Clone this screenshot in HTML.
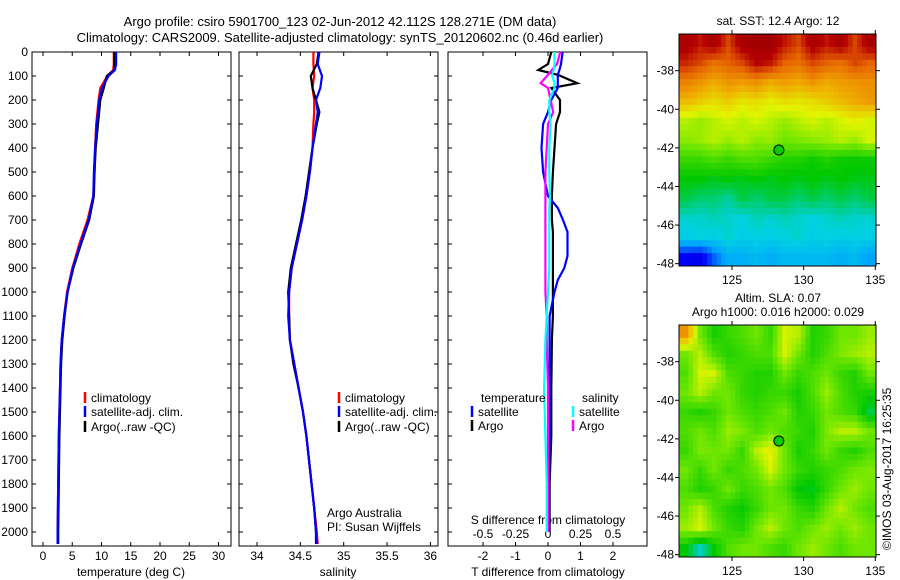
<!DOCTYPE html>
<html><head><meta charset="utf-8"><style>
html,body{margin:0;padding:0;background:#fff}
svg{display:block;font-family:"Liberation Sans",sans-serif}
text{font-size:12px;fill:#000}
</style></head><body>
<svg id="chart" width="900" height="580" viewBox="0 0 900 580">
<text x="340" y="26" text-anchor="middle" style="font-size:13px">Argo profile: csiro 5901700_123 02-Jun-2012 42.112S 128.271E (DM data)</text>
<text x="340" y="42" text-anchor="middle" style="font-size:13px">Climatology: CARS2009. Satellite-adjusted climatology: synTS_20120602.nc (0.46d earlier)</text>
<text x="778" y="25" text-anchor="middle">sat. SST: 12.4 Argo: 12</text>
<text x="778" y="302" text-anchor="middle">Altim. SLA: 0.07</text>
<text x="778" y="316" text-anchor="middle">Argo h1000: 0.016 h2000: 0.029</text>
<text transform="translate(891,550) rotate(-90)">©IMOS 03-Aug-2017 16:25:35</text>
<g id="g"></g>
</svg>
<script>
// ---- data ----
const depthT = [0,50,75,100,150,200,300,400,500,600,700,800,900,1000,1100,1200,1300,1400,1600,1800,2000,2050];
const tempClim = [12.1,12.1,12.0,11.0,9.8,9.5,9.1,8.9,8.8,8.6,7.6,6.2,5.0,4.1,3.6,3.2,3.0,2.9,2.7,2.6,2.5,2.5];
const tempSat = [12.5,12.5,12.3,11.2,10.1,9.6,9.2,8.9,8.7,8.6,7.8,6.4,5.1,4.2,3.6,3.2,3.0,2.9,2.7,2.6,2.5,2.5];
const tempArgo = [12.2,12.2,12.2,10.9,10.4,9.8,9.4,9.0,8.8,8.7,7.9,6.5,5.2,4.2,3.7,3.3,3.1,3.0,2.8,2.7,2.6,2.6];
const depthS = [0,50,100,150,200,250,300,400,500,600,700,800,900,1000,1100,1200,1300,1400,1500,1600,1700,1800,1900,2000,2050];
const salClim = [34.65,34.65,34.66,34.64,34.66,34.66,34.65,34.64,34.61,34.57,34.52,34.46,34.40,34.37,34.37,34.38,34.43,34.48,34.53,34.57,34.60,34.63,34.66,34.69,34.70];
const salSat = [34.72,34.70,34.75,34.73,34.68,34.70,34.68,34.64,34.61,34.57,34.52,34.46,34.40,34.37,34.36,34.38,34.43,34.48,34.53,34.57,34.60,34.63,34.66,34.68,34.69];
const salArgo = [34.71,34.69,34.62,34.64,34.68,34.72,34.69,34.64,34.60,34.56,34.51,34.45,34.39,34.36,34.37,34.38,34.42,34.48,34.53,34.57,34.60,34.63,34.66,34.68,34.68];
const depthD = [0,50,75,95,130,150,200,250,300,400,500,600,650,700,750,800,850,900,950,1000,1100,1200,1400,1600,1800,2000];
const dTsat = [0.45,0.4,0.35,0.3,0.3,0.3,0.1,0.0,-0.15,-0.2,-0.15,0.0,0.3,0.46,0.6,0.6,0.6,0.5,0.3,0.2,0.05,0.05,0.05,0.05,0.03,0.03];
const dTargo = [0.1,0.0,-0.3,0.3,0.9,0.1,0.37,0.37,0.25,0.2,0.15,0.12,0.12,0.12,0.15,0.15,0.15,0.15,0.15,0.15,0.15,0.12,0.1,0.1,0.05,0.05];
const dSsat = [0.05,0.05,0.045,0.03,0.05,0.05,0.01,0.01,0.02,0.01,0.01,0.015,0.01,0.01,0.01,0.01,0.01,0.01,0.005,0.0,-0.01,-0.02,-0.03,-0.02,-0.01,-0.01];
const dSargo = [0.094,0.07,0.03,0.0,-0.057,0.0,0.02,0.04,0.0,-0.01,-0.02,-0.02,-0.02,-0.02,-0.02,-0.02,-0.02,-0.02,-0.02,-0.02,-0.01,-0.01,0.0,0.0,0.0,0.0];
const depthTicks = [0,100,200,300,400,500,600,700,800,900,1000,1100,1200,1300,1400,1500,1600,1700,1800,1900,2000];
const tempTicks = [0,5,10,15,20,25,30];
const salTicks = [34,34.5,35,35.5,36];
const salTickLabels = ["34","34.5","35","35.5","36"];
const tdTicks = [-2,-1,0,1,2];
const sdTicks = [-0.5,-0.25,0,0.25,0.5];
const latTicks = [-38,-40,-42,-44,-46,-48];
const lonTicks = [125,130,135];
const argoLon = 128.271, argoLat = -42.112;
const sstGrid = [
[0.95,0.9,0.95,0.85,0.95,0.97,0.97,0.9,0.85,0.95,0.9,0.95,0.85,0.95],
[0.88,0.85,0.8,0.82,0.85,0.92,0.9,0.82,0.8,0.85,0.82,0.8,0.85,0.82],
[0.78,0.75,0.72,0.75,0.74,0.76,0.72,0.74,0.72,0.75,0.72,0.74,0.75,0.76],
[0.7,0.68,0.66,0.68,0.65,0.66,0.64,0.66,0.65,0.66,0.68,0.7,0.72,0.74],
[0.6,0.58,0.6,0.62,0.6,0.62,0.6,0.58,0.6,0.62,0.6,0.62,0.64,0.62],
[0.57,0.58,0.6,0.58,0.6,0.57,0.58,0.55,0.56,0.57,0.58,0.6,0.58,0.62],
[0.5,0.5,0.52,0.5,0.52,0.52,0.5,0.48,0.48,0.46,0.48,0.46,0.46,0.46],
[0.45,0.45,0.44,0.45,0.44,0.45,0.44,0.45,0.44,0.45,0.44,0.45,0.44,0.44],
[0.42,0.4,0.4,0.38,0.42,0.4,0.42,0.42,0.4,0.42,0.4,0.42,0.4,0.42],
[0.36,0.36,0.37,0.36,0.35,0.37,0.36,0.37,0.36,0.35,0.36,0.37,0.36,0.36],
[0.34,0.35,0.34,0.36,0.34,0.35,0.34,0.35,0.36,0.34,0.35,0.34,0.35,0.34],
[0.12,0.1,0.2,0.28,0.28,0.3,0.28,0.3,0.3,0.3,0.3,0.28,0.3,0.26]];
const slaGrid = [
[0.75,0.55,0.47,0.5,0.52,0.55,0.5,0.62,0.6,0.48,0.5,0.55,0.55,0.58],
[0.55,0.6,0.52,0.48,0.5,0.52,0.52,0.62,0.55,0.48,0.52,0.56,0.58,0.6],
[0.52,0.62,0.62,0.52,0.5,0.48,0.48,0.55,0.5,0.52,0.55,0.5,0.48,0.55],
[0.55,0.6,0.55,0.55,0.5,0.48,0.5,0.5,0.47,0.52,0.58,0.52,0.48,0.47],
[0.5,0.48,0.5,0.55,0.52,0.5,0.52,0.55,0.48,0.5,0.55,0.52,0.5,0.42],
[0.52,0.55,0.52,0.58,0.56,0.52,0.55,0.52,0.5,0.48,0.56,0.6,0.6,0.55],
[0.5,0.56,0.55,0.55,0.5,0.6,0.64,0.55,0.47,0.5,0.55,0.5,0.48,0.52],
[0.55,0.5,0.55,0.5,0.52,0.55,0.62,0.55,0.5,0.48,0.5,0.52,0.55,0.56],
[0.52,0.48,0.5,0.55,0.5,0.52,0.55,0.52,0.45,0.44,0.5,0.55,0.58,0.55],
[0.55,0.6,0.52,0.48,0.46,0.5,0.55,0.55,0.5,0.48,0.55,0.6,0.55,0.52],
[0.58,0.62,0.55,0.5,0.48,0.55,0.6,0.55,0.52,0.55,0.58,0.55,0.58,0.55],
[0.45,0.36,0.45,0.52,0.55,0.55,0.52,0.5,0.55,0.58,0.55,0.52,0.55,0.55]];

// ---- helpers ----
const NS="http://www.w3.org/2000/svg";
const G=document.getElementById('g');
function mk(tag,attrs,parent){const e=document.createElementNS(NS,tag);for(const k in attrs)e.setAttribute(k,attrs[k]);(parent||G).appendChild(e);return e;}
function txt(x,y,s,anchor,parent){const t=mk('text',{x:x,y:y,'text-anchor':anchor||'middle'},parent);t.textContent=s;return t;}
const top0=52, bot=546;
const yD=d=>top0+d*0.24;
const P1={l:32,r:231}, P2={l:239,r:438}, P3={l:448,r:647};
const xT=v=>43+v*5.85;
const xS=v=>257+(v-34)*86.7;
const xTd=v=>548+v*32.5;
const xSd=v=>548+v*130;

function frame(P,name){
  const f=mk('rect',{x:P.l,y:top0,width:P.r-P.l,height:bot-top0,fill:'none',stroke:'#000','stroke-width':1});
  
  
  depthTicks.forEach(d=>{
    mk('line',{x1:P.l,x2:P.l+4,y1:yD(d),y2:yD(d),stroke:'#000'});
    mk('line',{x1:P.r-4,x2:P.r,y1:yD(d),y2:yD(d),stroke:'#000'});
  });
}
function xticks(ticks,fx,labels,name,ylab){
  ticks.forEach((v,i)=>{
    const x=fx(v);
    mk('line',{x1:x,x2:x,y1:top0,y2:top0+4,stroke:'#000'});
    mk('line',{x1:x,x2:x,y1:bot-4,y2:bot,stroke:'#000'});
    const t=txt(x,ylab,labels[i]);
    
    
  });
}
function line(ys,xs,fx,color,name,w){
  const pts=ys.map((d,i)=>fx(xs[i]).toFixed(1)+','+yD(d).toFixed(1)).join(' ');
  const p=mk('polyline',{points:pts,fill:'none',stroke:color,'stroke-width':w||2.2});
  
  
}
function legend(x,y,color,label,name){
  mk('line',{x1:x,x2:x,y1:y-10,y2:y+1,stroke:color,'stroke-width':2.5});
  const t=txt(x+6,y,label,'start');
  
  
}

// panel 1
frame(P1,'temperature-panel');
depthTicks.forEach(d=>{
  const t=txt(28,yD(d)+4,String(d),'end');
  
  
});
xticks(tempTicks,xT,tempTicks.map(String),'temperature-tick-label',560);
line(depthT,tempClim,xT,'#f00','temp-climatology-line');
line(depthT,tempArgo,xT,'#000','temp-argo-line');
line(depthT,tempSat,xT,'#00f','temp-satellite-line');
let t1=txt(131,576,'temperature (deg C)');


legend(85,402,'#f00','climatology','legend-climatology');
legend(85,416,'#00f','satellite-adj. clim.','legend-satellite');
legend(85,431,'#000','Argo(..raw -QC)','legend-argo');

// panel 2
frame(P2,'salinity-panel');
xticks(salTicks,xS,salTickLabels,'salinity-tick-label',560);
line(depthS,salClim,xS,'#f00','sal-climatology-line');
line(depthS,salArgo,xS,'#000','sal-argo-line');
line(depthS,salSat,xS,'#00f','sal-satellite-line');
let t2=txt(338,576,'salinity');


legend(339,402,'#f00','climatology','legend-climatology-2');
legend(339,416,'#00f','satellite-adj. clim.','legend-satellite-2');
legend(339,431,'#000','Argo(..raw -QC)','legend-argo-2');
let a1=txt(327,517,'Argo Australia','start');


let a2=txt(327,531,'PI: Susan Wijffels','start');



// panel 3
frame(P3,'difference-panel');
xticks(tdTicks,xTd,tdTicks.map(String),'t-diff-tick-label',560);
sdTicks.forEach(v=>{
  const t=txt(xSd(v),538,String(v));
  
  
});
let s1=txt(548,524,'S difference from climatology');


let s2=txt(548,576,'T difference from climatology');


line(depthD,dTargo,xTd,'#000','t-diff-argo-line');
line(depthD,dTsat,xTd,'#00f','t-diff-satellite-line');
line(depthD,dSargo,xSd,'#f0f','s-diff-argo-line');
line(depthD,dSsat,xSd,'#0ff','s-diff-satellite-line');
let lt=txt(481,402,'temperature','start');


let ls=txt(582,402,'salinity','start');


legend(472,416,'#00f','satellite','legend-t-satellite');
legend(472,430,'#000','Argo','legend-t-argo');
legend(573,416,'#0ff','satellite','legend-s-satellite');
legend(573,430,'#f0f','Argo','legend-s-argo');

// ---- maps ----
const stops=[[0,[0,0,130]],[0.12,[0,0,255]],[0.25,[0,160,255]],[0.35,[0,210,225]],[0.45,[0,200,0]],[0.55,[110,230,0]],[0.63,[225,245,0]],[0.72,[240,170,0]],[0.82,[230,100,0]],[0.92,[180,0,0]],[1,[150,0,0]]];
function cmap(v){
  for(let i=1;i<stops.length;i++){ if(v<=stops[i][0]){const a=stops[i-1],b=stops[i];const f=(v-a[0])/(b[0]-a[0]);const c=a[1].map((x,k)=>Math.round(x+(b[1][k]-x)*f));return 'rgb('+c.join(',')+')';}}
  return 'rgb(150,0,0)';
}
function sample(grid,fr,fc){
  const R=grid.length-1,C=grid[0].length-1;
  fr=Math.max(0,Math.min(R,fr));fc=Math.max(0,Math.min(C,fc));
  const r0=Math.floor(fr),c0=Math.floor(fc),r1=Math.min(R,r0+1),c1=Math.min(C,c0+1);
  const a=fr-r0,b=fc-c0;
  return grid[r0][c0]*(1-a)*(1-b)+grid[r0][c1]*(1-a)*b+grid[r1][c0]*a*(1-b)+grid[r1][c1]*a*b;
}
function map(top,grid,name){
  const L=679,R=876,B=top+232;
  const lon0=121.3,lon1=135.05,lat0=-36.1;
  const mx=lon=>L+(lon-lon0)*(R-L)/(lon1-lon0);
  const my=lat=>top+(lat0-lat)*19.3;
  const rows=grid.length, cols=grid[0].length, up=3;
  const cw=(R-L)/(cols*up), ch=(B-top)/(rows*up);
  const g=mk('g',{});
  
  
  for(let r=0;r<rows*up;r++)for(let c=0;c<cols*up;c++){
    const v=sample(grid,(r+0.5)/up-0.5,(c+0.5)/up-0.5);
    const cell=mk('rect',{x:(L+c*cw).toFixed(2),y:(top+r*ch).toFixed(2),width:(cw+0.5).toFixed(2),height:(ch+0.5).toFixed(2),fill:cmap(v)},g);
    
    
  }
  mk('rect',{x:L,y:top,width:R-L,height:B-top,fill:'none',stroke:'#000'});
  latTicks.forEach(lat=>{
    const y=my(lat);
    mk('line',{x1:L-4,x2:L,y1:y,y2:y,stroke:'#000'});
    mk('line',{x1:R,x2:R+4,y1:y,y2:y,stroke:'#000'});
    const t=txt(L-5,y+4,String(lat),'end');
    
    
  });
  lonTicks.forEach(lon=>{
    const x=mx(lon);
    mk('line',{x1:x,x2:x,y1:top-4,y2:top,stroke:'#000'});
    mk('line',{x1:x,x2:x,y1:B,y2:B+4,stroke:'#000'});
    const t=txt(x,B+18,String(lon));
    
    
  });
  const dot=mk('circle',{cx:mx(argoLon),cy:my(argoLat),r:5,fill:'#0c0',stroke:'#000','stroke-width':1});
  
  
}
map(34,sstGrid,'sst-map');
map(325,slaGrid,'sla-map');
</script>
</body></html>
